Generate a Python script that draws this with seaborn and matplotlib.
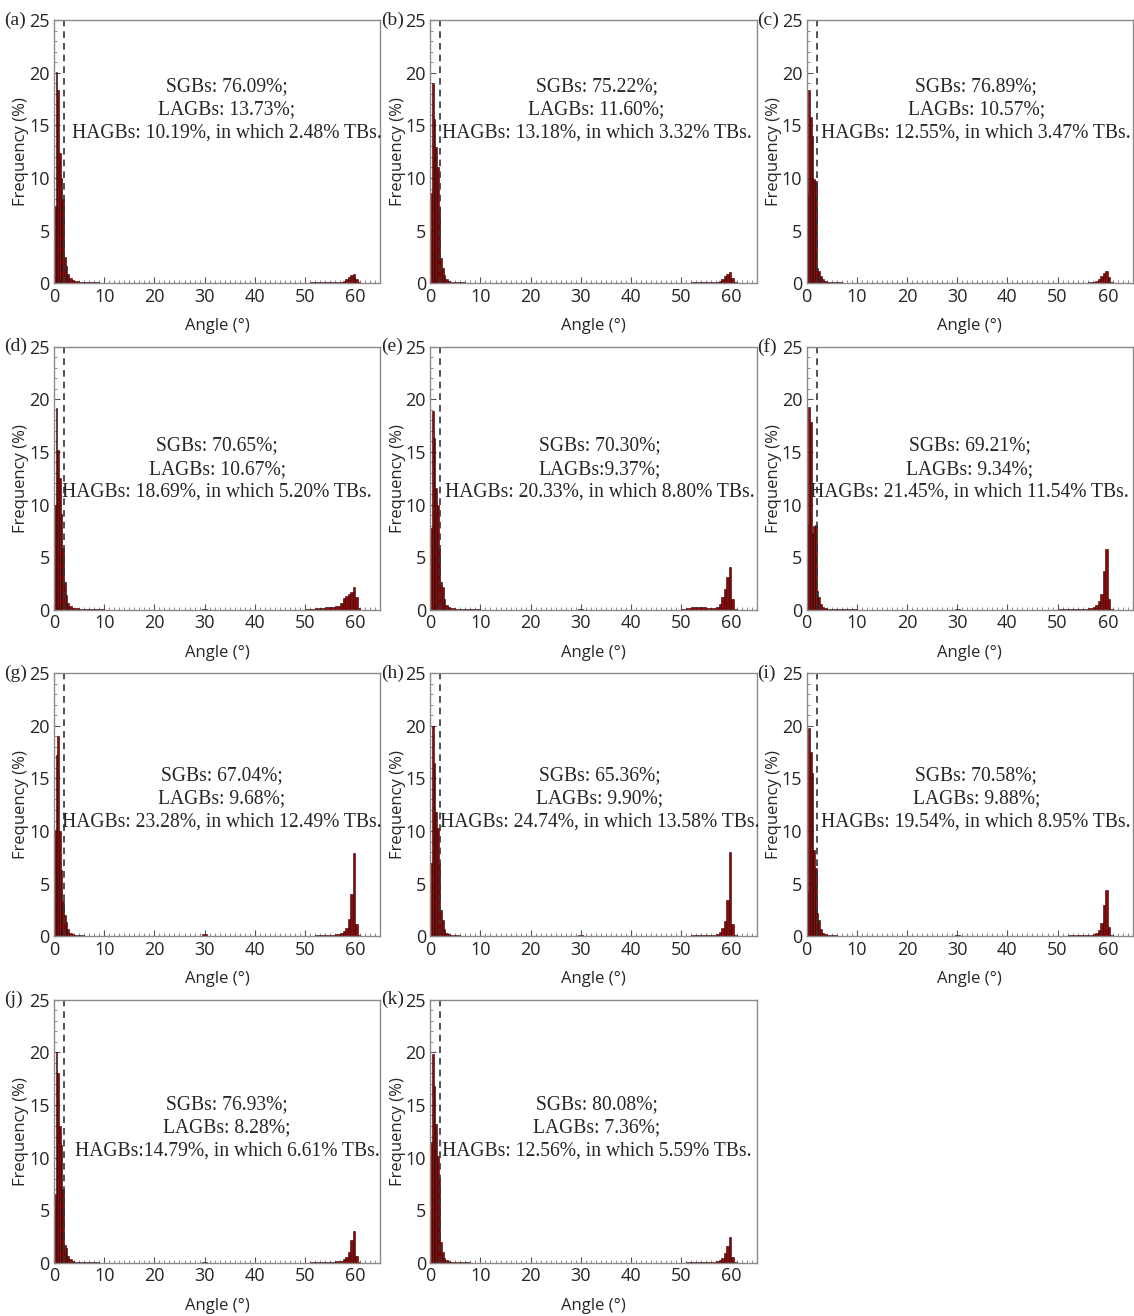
import numpy as np
import matplotlib
matplotlib.use('Agg')
import matplotlib.pyplot as plt
import seaborn as sns
from matplotlib.ticker import MultipleLocator

# bin edges (deg); gaps between groups are empty bins
low_edges = [0, 0.33, 0.67, 1.0, 1.33, 1.67, 2.0, 2.33, 2.67, 3.0, 3.5, 4, 5, 6, 7, 8, 9, 10]
mid_edges = [29.5, 30.5]
high_edges = [50, 51, 52, 53, 54, 55, 56, 57, 57.5, 58, 58.5, 59, 59.5, 60, 60.5, 61]

panel_tags = ['(a)', '(b)', '(c)', '(d)', '(e)', '(f)', '(g)', '(h)', '(i)', '(j)', '(k)']

freq_a = [7.3, 20.1, 18.4, 12.4, 10.0, 8.0, 2.5, 1.6, 0.9, 0.5, 0.3, 0.2, 0.15, 0.12, 0.1, 0.08, 0.05,
          0.03,
          0.05, 0.1, 0.15, 0.12, 0.1, 0.08, 0.1, 0.15, 0.25, 0.4, 0.6, 0.8, 0.9, 0.45, 0.1]
freq_b = [8.6, 19.0, 15.6, 12.9, 11.0, 7.2, 2.4, 1.5, 0.8, 0.4, 0.25, 0.15, 0.1, 0.08, 0.06, 0.05, 0.04,
          0.02,
          0.04, 0.06, 0.08, 0.1, 0.1, 0.1, 0.12, 0.15, 0.25, 0.4, 0.7, 0.9, 1.1, 0.5, 0.1]
freq_c = [8.6, 18.4, 15.8, 14.0, 9.9, 9.7, 1.5, 1.2, 0.7, 0.4, 0.2, 0.15, 0.1, 0.08, 0.06, 0.05, 0.04,
          0.05,
          0.03, 0.04, 0.05, 0.06, 0.06, 0.07, 0.1, 0.15, 0.25, 0.4, 0.7, 1.0, 1.2, 0.6, 0.1]
freq_d = [10.0, 19.2, 15.2, 12.5, 9.1, 5.9, 2.6, 1.4, 0.7, 0.35, 0.2, 0.15, 0.1, 0.08, 0.06, 0.05, 0.04,
          0.12,
          0.08, 0.12, 0.18, 0.22, 0.25, 0.3, 0.4, 0.7, 1.1, 1.3, 1.5, 1.7, 2.2, 1.2, 0.2]
freq_e = [7.8, 18.9, 16.3, 11.6, 10.0, 5.8, 2.6, 2.2, 1.0, 0.5, 0.25, 0.15, 0.1, 0.1, 0.12, 0.1, 0.06,
          0.05,
          0.1, 0.15, 0.25, 0.3, 0.25, 0.15, 0.15, 0.3, 0.6, 1.2, 2.0, 3.1, 4.1, 1.0, 0.1]
freq_f = [8.2, 19.3, 17.8, 7.3, 8.0, 8.1, 1.8, 1.2, 0.6, 0.3, 0.2, 0.12, 0.1, 0.08, 0.06, 0.05, 0.04,
          0.12,
          0.04, 0.06, 0.08, 0.1, 0.1, 0.12, 0.15, 0.25, 0.45, 0.8, 1.5, 3.7, 5.8, 1.0, 0.1]
freq_g = [10.1, 17.2, 19.0, 10.0, 6.3, 3.4, 2.0, 1.4, 0.7, 0.35, 0.2, 0.12, 0.1, 0.08, 0.06, 0.05, 0.04,
          0.2,
          0.05, 0.08, 0.1, 0.12, 0.12, 0.15, 0.2, 0.3, 0.5, 0.8, 1.7, 4.0, 7.9, 1.2, 0.1]
freq_h = [7.0, 20.0, 16.5, 11.8, 10.3, 7.0, 2.5, 1.6, 0.7, 0.35, 0.2, 0.12, 0.1, 0.08, 0.06, 0.05, 0.04,
          0.15,
          0.05, 0.08, 0.12, 0.15, 0.18, 0.15, 0.15, 0.25, 0.45, 0.8, 1.5, 3.5, 8.0, 1.2, 0.1]
freq_i = [4.3, 19.8, 17.5, 15.5, 8.2, 6.5, 2.2, 1.6, 0.7, 0.35, 0.2, 0.12, 0.1, 0.08, 0.06, 0.05, 0.04,
          0.15,
          0.05, 0.08, 0.12, 0.15, 0.15, 0.12, 0.12, 0.2, 0.35, 0.6, 1.3, 3.0, 4.4, 0.9, 0.1]
freq_j = [6.5, 20.0, 18.0, 13.0, 11.2, 7.0, 1.7, 1.4, 0.7, 0.35, 0.2, 0.12, 0.1, 0.08, 0.06, 0.05, 0.04,
          0.1,
          0.04, 0.06, 0.08, 0.1, 0.12, 0.12, 0.15, 0.2, 0.35, 0.6, 1.0, 2.2, 3.0, 0.7, 0.1]
freq_k = [11.5, 19.8, 16.8, 13.2, 10.2, 8.0, 2.0, 1.0, 0.5, 0.3, 0.15, 0.1, 0.08, 0.06, 0.05, 0.04, 0.03,
          0.03,
          0.03, 0.05, 0.06, 0.08, 0.1, 0.1, 0.12, 0.18, 0.3, 0.5, 0.9, 1.6, 2.5, 0.6, 0.1]

sgb_text = ['SGBs: 76.09%;', 'SGBs: 75.22%;', 'SGBs: 76.89%;', 'SGBs: 70.65%;', 'SGBs: 70.30%;',
            'SGBs: 69.21%;', 'SGBs: 67.04%;', 'SGBs: 65.36%;', 'SGBs: 70.58%;', 'SGBs: 76.93%;',
            'SGBs: 80.08%;']
lagb_text = ['LAGBs: 13.73%;', 'LAGBs: 11.60%;', 'LAGBs: 10.57%;', 'LAGBs: 10.67%;', 'LAGBs:9.37%;',
             'LAGBs: 9.34%;', 'LAGBs: 9.68%;', 'LAGBs: 9.90%;', 'LAGBs: 9.88%;', 'LAGBs: 8.28%;',
             'LAGBs: 7.36%;']
hagb_text = ['HAGBs: 10.19%, in which 2.48% TBs.', 'HAGBs: 13.18%, in which 3.32% TBs.',
             'HAGBs: 12.55%, in which 3.47% TBs.', 'HAGBs: 18.69%, in which 5.20% TBs.',
             'HAGBs: 20.33%, in which 8.80% TBs.', 'HAGBs: 21.45%, in which 11.54% TBs.',
             'HAGBs: 23.28%, in which 12.49% TBs.', 'HAGBs: 24.74%, in which 13.58% TBs.',
             'HAGBs: 19.54%, in which 8.95% TBs.', 'HAGBs:14.79%, in which 6.61% TBs.',
             'HAGBs: 12.56%, in which 5.59% TBs.']

freqs = [freq_a, freq_b, freq_c, freq_d, freq_e, freq_f, freq_g, freq_h, freq_i, freq_j, freq_k]

# bin centres of the filled bins, and the full edge list for histplot
def centres(e):
    e = np.asarray(e, dtype=float)
    return list((e[:-1] + e[1:]) / 2)

bin_x = centres(low_edges) + centres(mid_edges) + centres(high_edges)
all_edges = low_edges + mid_edges + high_edges

sns.set_style('ticks')
plt.rcParams['font.family'] = ['Open Sans', 'DejaVu Sans']
serif = ['Liberation Serif', 'DejaVu Serif']

fig, axes = plt.subplots(4, 3, figsize=(11.34, 13.16), dpi=100)
plt.subplots_adjust(left=0.0476, right=0.999, bottom=0.0403, top=0.9848, wspace=0.153, hspace=0.24)

row_text_y = [16.5, 13.35, 13.1, 12.8]
text_x = [0.53, 0.51, 0.52, 0.50, 0.52, 0.50, 0.515, 0.52, 0.52, 0.53, 0.51]

for i, ax in enumerate(axes.flat):
    if i >= len(freqs):
        ax.axis('off')
        continue
    sns.histplot(x=bin_x, weights=freqs[i], bins=all_edges, ax=ax, stat='count',
                 color='#8e0a0a', edgecolor='#2a0000', linewidth=0.4, alpha=1)
    ax.axvline(2, color='#333333', ls=(0, (4, 3)), lw=1.2)
    ax.set_xlim(0, 65)
    ax.set_ylim(0, 25)
    ax.set_xticks([0, 10, 20, 30, 40, 50, 60])
    ax.set_yticks([0, 5, 10, 15, 20, 25])
    ax.xaxis.set_minor_locator(MultipleLocator(1))
    ax.yaxis.set_minor_locator(MultipleLocator(1))
    ax.tick_params(which='major', direction='in', length=4, width=0.8, color='#555555',
                   labelsize=13)
    ax.tick_params(axis='x', which='major', pad=3)
    ax.tick_params(axis='y', which='major', pad=3)
    ax.tick_params(which='minor', direction='in', length=2, width=0.6, color='#777777')
    for s in ax.spines.values():
        s.set_color('#8a8a8a')
        s.set_linewidth(1.0)
    ax.set_xlabel('Angle (°)', fontsize=12, labelpad=9)
    ax.set_ylabel('Frequency (%)', fontsize=12, labelpad=0)
    ty = row_text_y[i // 3]
    ax.text(text_x[i], ty, sgb_text[i] + '\n' + lagb_text[i] + '\n' + hagb_text[i],
            transform=ax.get_yaxis_transform(), ha='center', va='center',
            fontsize=14.1, family=serif, linespacing=1.3)
    ax.text(-0.152, 1.0, panel_tags[i], transform=ax.transAxes, ha='left', va='center',
            fontsize=14, family=serif)

plt.savefig('out.png', dpi=100)
